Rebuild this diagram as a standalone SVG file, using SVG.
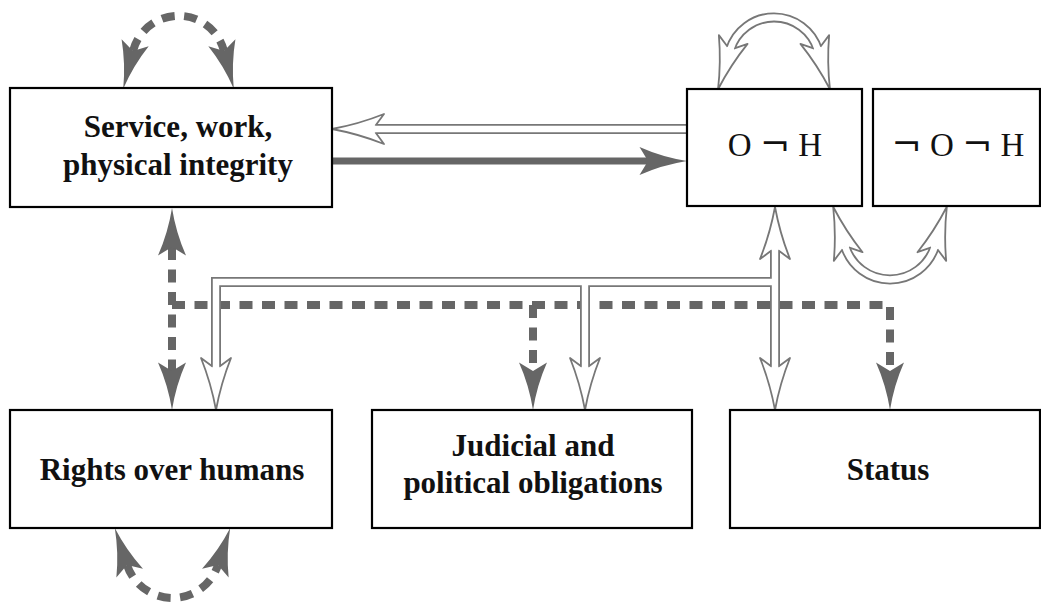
<svg xmlns="http://www.w3.org/2000/svg" width="1041" height="606" viewBox="0 0 1041 606">
<style>
.box{fill:#fff;stroke:#000;stroke-width:2.2}
.lbl{font-family:"Liberation Serif","DejaVu Serif",serif;font-size:31px;font-weight:bold;fill:#111;text-anchor:middle}
.math{font-family:"Liberation Serif","DejaVu Serif",serif;font-size:33px;fill:#111;text-anchor:middle}
.neg{font-family:"DejaVu Serif","Liberation Serif",serif;font-size:36px}
.dash{fill:none;stroke:#666;stroke-width:8;stroke-dasharray:13 9.5}
.thick{fill:none;stroke:#666;stroke-width:7}
.dg{fill:none;stroke:#777;stroke-width:10;stroke-linejoin:miter}
.dw{fill:none;stroke:#fff;stroke-width:6.4;stroke-linejoin:miter}
</style>
<defs>
<marker id="fh" markerUnits="userSpaceOnUse" orient="auto-start-reverse" overflow="visible" markerWidth="1" markerHeight="1" refX="0" refY="0">
<path d="M-8.5,-14 L0,0 L-8.5,14 Q14,4 39,0 Q14,-4 -8.5,-14 Z" fill="#666"/>
</marker>
<marker id="hh" markerUnits="userSpaceOnUse" orient="auto-start-reverse" overflow="visible" markerWidth="1" markerHeight="1" refX="0" refY="0">
<path d="M-11,-15 L0,0 L-11,15 Q14,5 41,0 Q14,-5 -11,-15 Z" fill="#fff"/>
<path d="M-2.35,-3.2 L-11,-15 Q14,-5 41,0 Q14,5 -11,15 L-2.35,3.2" fill="none" stroke="#777" stroke-width="1.8" stroke-linejoin="round"/>
</marker>
</defs>
<g id="connectors">
<path class="dash" d="M133,51 A47,47 0 0 1 224,51" marker-start="url(#fh)" marker-end="url(#fh)"/>
<path class="dash" d="M127,565 A47.9,47.9 0 0 0 218,565" marker-start="url(#fh)" marker-end="url(#fh)"/>
<path class="dash" d="M172,247 V371" marker-start="url(#fh)" marker-end="url(#fh)"/>
<path class="dash" d="M172,305 H890 V371" marker-end="url(#fh)"/>
<path class="dash" d="M533,305 V371" marker-end="url(#fh)"/>
<path class="thick" d="M332,161 H648" marker-end="url(#fh)"/>
<path class="dg" d="M687,129 H373" marker-end="url(#hh)"/>
<path class="dg" d="M730,50 A46,46 0 0 1 818,50" marker-start="url(#hh)" marker-end="url(#hh)"/>
<path class="dg" d="M845,246 A47,47 0 0 0 935,246" marker-start="url(#hh)" marker-end="url(#hh)"/>
<path class="dg" d="M775,248 V369" marker-start="url(#hh)" marker-end="url(#hh)"/>
<path class="dg" d="M775,282 H216 V369" marker-end="url(#hh)"/>
<path class="dg" d="M585,282 V369" marker-end="url(#hh)"/>
<path class="dw" d="M688,129 H373"/>
<path class="dw" d="M730,50 A46,46 0 0 1 818,50"/>
<path class="dw" d="M845,246 A47,47 0 0 0 935,246"/>
<path class="dw" d="M775,248 V369"/>
<path class="dw" d="M775,282 H216 V369"/>
<path class="dw" d="M585,282 V369"/>
</g>
<g id="service">
<rect class="box" x="10" y="88" width="322" height="119"/>
<text class="lbl" x="178" y="137">Service, work,</text>
<text class="lbl" x="178" y="175">physical integrity</text>
</g>
<g id="oh">
<rect class="box" x="687" y="89" width="175" height="117"/>
<text class="math" x="775" y="156">O <tspan class="neg">¬</tspan> H</text>
</g>
<g id="noh">
<rect class="box" x="873" y="89" width="167" height="117"/>
<text class="math" x="958" y="156"><tspan class="neg">¬</tspan> O <tspan class="neg">¬</tspan> H</text>
</g>
<g id="rights">
<rect class="box" x="10" y="410" width="322" height="118"/>
<text class="lbl" x="172" y="480">Rights over humans</text>
</g>
<g id="judicial">
<rect class="box" x="372" y="410" width="320" height="118"/>
<text class="lbl" x="533" y="456">Judicial and</text>
<text class="lbl" x="533" y="493">political obligations</text>
</g>
<g id="status">
<rect class="box" x="730" y="410" width="310" height="118"/>
<text class="lbl" x="888" y="480">Status</text>
</g>
</svg>
